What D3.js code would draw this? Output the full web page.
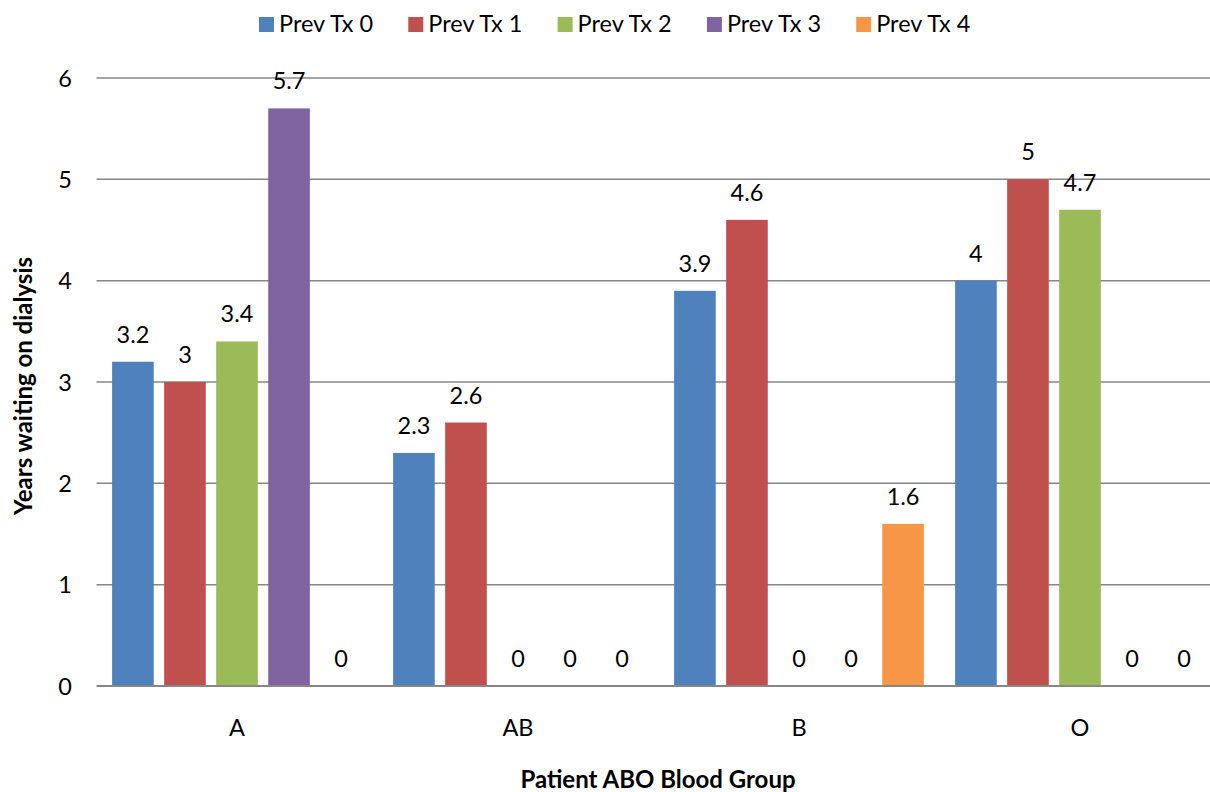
<!DOCTYPE html>
<html>
<head>
<meta charset="utf-8">
<script src="https://cdn.jsdelivr.net/npm/d3@7"></script>
<style>
  html, body { margin: 0; padding: 0; background: #fff; overflow: hidden; }
  svg { display: block; font-family: Lato, "Open Sans", sans-serif; }
</style>
</head>
<body>
<svg id="chart" width="1210" height="792"></svg>
<script>
const categories = ["A", "AB", "B", "O"];
const seriesNames = ["Prev Tx 0", "Prev Tx 1", "Prev Tx 2", "Prev Tx 3", "Prev Tx 4"];
const prevTx0 = [3.2, 2.3, 3.9, 4];
const prevTx1 = [3, 2.6, 4.6, 5];
const prevTx2 = [3.4, 0, 0, 4.7];
const prevTx3 = [5.7, 0, 0, 0];
const prevTx4 = [0, 0, 1.6, 0];
const yTicks = [0, 1, 2, 3, 4, 5, 6];
const colors = ["#4F81BD", "#C0504D", "#9BBB59", "#8064A2", "#F79646"];
const seriesValues = [prevTx0, prevTx1, prevTx2, prevTx3, prevTx4];

const svg = d3.select("#chart");
const plotLeft = 96.5, plotRight = 1220.5, plotTop = 78, plotBottom = 686;
const fs = 23.5;

const x0 = d3.scaleBand().domain(categories).range([plotLeft, plotRight]).paddingInner(0).paddingOuter(0);
const x1 = d3.scaleBand().domain(seriesNames).range([0, x0.bandwidth()]).paddingInner(0.2).paddingOuter(0.3);
const y = d3.scaleLinear().domain([0, 6]).range([plotBottom, plotTop]);

// gridlines
svg.append("g").selectAll("line").data(yTicks.filter(t => t > 0)).join("line")
  .attr("x1", plotLeft).attr("x2", 1210)
  .attr("y1", d => y(d)).attr("y2", d => y(d))
  .attr("stroke", "#878787").attr("stroke-width", 1.5);

// y tick labels
svg.append("g").selectAll("text").data(yTicks).join("text")
  .attr("x", 72).attr("y", d => y(d) + 8.5)
  .attr("text-anchor", "end").attr("font-size", fs).attr("fill", "#000")
  .text(d => d);

// bars
const data = [];
categories.forEach((c, ci) => seriesNames.forEach((s, si) => data.push({c, s, si, v: seriesValues[si][ci]})));

svg.append("g").selectAll("rect").data(data.filter(d => d.v > 0)).join("rect")
  .attr("x", d => x0(d.c) + x1(d.s))
  .attr("width", x1.bandwidth())
  .attr("y", d => y(d.v))
  .attr("height", d => y(0) - y(d.v))
  .attr("fill", d => colors[d.si]);

// data labels
svg.append("g").selectAll("text").data(data).join("text")
  .attr("x", d => x0(d.c) + x1(d.s) + x1.bandwidth() / 2)
  .attr("y", d => y(d.v) - 19)
  .attr("text-anchor", "middle").attr("font-size", fs).attr("fill", "#000")
  .text(d => d.v);

// x axis line
svg.append("line").attr("x1", plotLeft).attr("x2", 1210).attr("y1", y(0)).attr("y2", y(0))
  .attr("stroke", "#878787").attr("stroke-width", 2);

// category labels
svg.append("g").selectAll("text").data(categories).join("text")
  .attr("x", d => x0(d) + x0.bandwidth() / 2).attr("y", 736)
  .attr("text-anchor", "middle").attr("font-size", fs).attr("fill", "#000")
  .text(d => d);

// axis titles
svg.append("text").attr("x", 658).attr("y", 788).attr("text-anchor", "middle")
  .attr("font-size", 24).attr("font-weight", "bold").text("Patient ABO Blood Group");
svg.append("text").attr("transform", "translate(32,386) rotate(-90)").attr("text-anchor", "middle")
  .attr("font-size", 24).attr("font-weight", "bold").text("Years waiting on dialysis");

// legend
const lg = svg.append("g").selectAll("g").data(seriesNames).join("g")
  .attr("transform", (d, i) => `translate(${259 + i * 149.3},0)`);
lg.append("rect").attr("x", 0).attr("y", 17).attr("width", 15).attr("height", 15)
  .attr("fill", (d, i) => colors[i]);
lg.append("text").attr("x", 20).attr("y", 32).attr("font-size", fs).attr("fill", "#000").text(d => d);
</script>
</body>
</html>
